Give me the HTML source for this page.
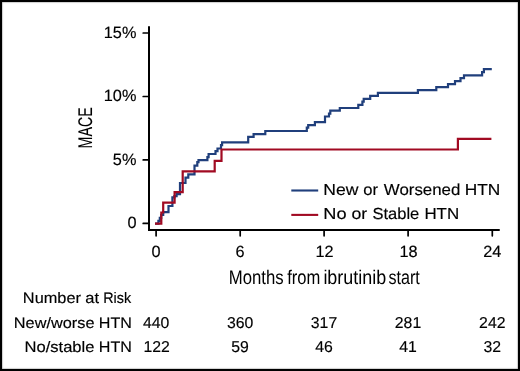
<!DOCTYPE html>
<html>
<head>
<meta charset="utf-8">
<style>
html,body{margin:0;padding:0;background:#000;}
body{width:520px;height:371px;overflow:hidden;position:relative;}
#card{position:absolute;left:2px;top:2px;width:516px;height:367px;background:#fff;box-shadow:inset 0 0 1px 0.5px rgba(0,0,0,0.35);}
svg{position:absolute;left:0;top:0;will-change:transform;}
text{text-rendering:geometricPrecision;font-family:"Liberation Sans",sans-serif;fill:#000;stroke:#000;stroke-width:0.16px;}
text.nt{stroke-width:0;}
</style>
</head>
<body>
<div id="card"></div>
<svg width="520" height="371" viewBox="0 0 520 371">
  <g stroke="#000" stroke-width="2" fill="none" stroke-linecap="round">
    <path d="M149 27.1 V230 H499" stroke-linecap="round"/>
    <path d="M143.2 33 H149 M143.2 96.5 H149 M143.2 159.9 H149 M143.2 223.4 H149" stroke-width="1.7"/>
    <path d="M156.1 230 V235.8 M240.2 230 V235.8 M324.1 230 V235.8 M408.1 230 V235.8 M492.3 230 V235.8" stroke-width="1.7"/>
  </g>
  <g font-size="16.3" text-anchor="end">
    <text x="136.4" y="38">15%</text>
    <text x="136.4" y="101">10%</text>
    <text x="136.4" y="165">5%</text>
    <text x="136.5" y="228">0</text>
  </g>
  <g font-size="16.3" text-anchor="middle">
    <text x="156.1" y="256.5">0</text>
    <text x="240.1" y="256.5">6</text>
    <text x="324.5" y="256.5">12</text>
    <text x="408.5" y="256.5">18</text>
    <text x="492.3" y="256.5">24</text>
  </g>
  <text transform="translate(92,148.4) rotate(-90)" font-size="19.8" textLength="41" lengthAdjust="spacingAndGlyphs" style="stroke-width:0.1px">MACE</text>
  <g fill="none" stroke-width="2.2" stroke-linecap="square" stroke-linejoin="miter">
    <path stroke="#203f7c" d="M156.1,223.6 H158.4 V220.8 H159.8 V217.8 H161.2 V215.0 H163.2 V212.2 H168.5 V206.0 H172.4 V197.4 H174.4 V196.2 H176.6 V194.2 H180.0 V183.0 H185.5 V177.6 H188.3 V174.4 H194.5 V165.7 H197.3 V162.2 H198.5 V160.1 H207.4 V157.1 H208.6 V154.0 H215.5 V151.2 H217.5 V148.5 H221.0 V145.2 H222.1 V142.4 H248.2 V136.8 H253.6 V134.2 H265.3 V131.0 H306.8 V127.7 H308.2 V125.1 H314.9 V122.1 H325.0 V116.5 H329.0 V113.7 H330.3 V110.7 H339.8 V108.0 H358.3 V104.8 H362.4 V101.7 H363.7 V98.8 H370.2 V95.9 H377.9 V92.9 H417.9 V90.2 H436.3 V87.2 H448.0 V84.1 H455.0 V81.2 H460.5 V78.2 H464.0 V75.3 H482.1 V72.2 H483.9 V69.1 H490.7"/>
    <path stroke="#a10a22" d="M156.1,223.6 H161.3 V212.5 H163.2 V202.7 H174.6 V192.2 H182.7 V171.4 H214.7 V160.8 H221.5 V149.5 H457.9 V138.9 H490.3"/>
  </g>
  <path d="M291.3 190.5 H318.2" stroke="#203f7c" stroke-width="2.1"/>
  <path d="M291.3 214.9 H318.2" stroke="#a10a22" stroke-width="2.1"/>
  <text x="323.35" y="194.6" font-size="16.0" textLength="35.11" lengthAdjust="spacingAndGlyphs">New</text>
  <text x="363.19" y="194.6" font-size="16.0" textLength="14.78" lengthAdjust="spacingAndGlyphs">or</text>
  <text x="383.82" y="194.6" font-size="16.0" textLength="76.47" lengthAdjust="spacingAndGlyphs">Worsened</text>
  <text x="464.67" y="194.6" font-size="16.0" textLength="35.56" lengthAdjust="spacingAndGlyphs">HTN</text>
  <text x="323.30" y="219.2" font-size="16.0" textLength="23.24" lengthAdjust="spacingAndGlyphs">No</text>
  <text x="351.45" y="219.2" font-size="16.0" textLength="15.75" lengthAdjust="spacingAndGlyphs">or</text>
  <text x="372.46" y="219.2" font-size="16.0" textLength="46.85" lengthAdjust="spacingAndGlyphs">Stable</text>
  <text x="424.40" y="219.2" font-size="16.0" textLength="34.80" lengthAdjust="spacingAndGlyphs">HTN</text>
  <text x="22.85" y="303.4" font-size="15.2" textLength="58.12" lengthAdjust="spacingAndGlyphs">Number</text>
  <text x="85.30" y="303.4" font-size="15.2" textLength="13.75" lengthAdjust="spacingAndGlyphs">at</text>
  <text x="103.21" y="303.4" font-size="15.2" textLength="27.98" lengthAdjust="spacingAndGlyphs">Risk</text>
  <text x="13.85" y="328.0" font-size="15.2" textLength="80.65" lengthAdjust="spacingAndGlyphs">New/worse</text>
  <text x="98.87" y="328.0" font-size="15.2" textLength="33.06" lengthAdjust="spacingAndGlyphs">HTN</text>
  <text x="24.53" y="352.4" font-size="15.2" textLength="69.91" lengthAdjust="spacingAndGlyphs">No/stable</text>
  <text x="98.87" y="352.4" font-size="15.2" textLength="33.06" lengthAdjust="spacingAndGlyphs">HTN</text>
  <text x="228.82" y="284" font-size="19.8" textLength="54.86" lengthAdjust="spacingAndGlyphs" class="nt">Months</text>
  <text x="287.15" y="284" font-size="19.8" textLength="33.13" lengthAdjust="spacingAndGlyphs" class="nt">from</text>
  <text x="323.39" y="284" font-size="19.8" textLength="62.76" lengthAdjust="spacingAndGlyphs" class="nt">ibrutinib</text>
  <text x="388.46" y="284" font-size="19.8" textLength="31.26" lengthAdjust="spacingAndGlyphs" class="nt">start</text>
  <g font-size="15.8" text-anchor="middle">
    <text x="156.1" y="328.1">440</text>
    <text x="240.1" y="328.1">360</text>
    <text x="324" y="328.1">317</text>
    <text x="408" y="328.1">281</text>
    <text x="492.3" y="328.1">242</text>
    <text x="156.7" y="352.3">122</text>
    <text x="240.1" y="352.3">59</text>
    <text x="324" y="352.3">46</text>
    <text x="408" y="352.3">41</text>
    <text x="492.3" y="352.3">32</text>
  </g>
</svg>
</body>
</html>
